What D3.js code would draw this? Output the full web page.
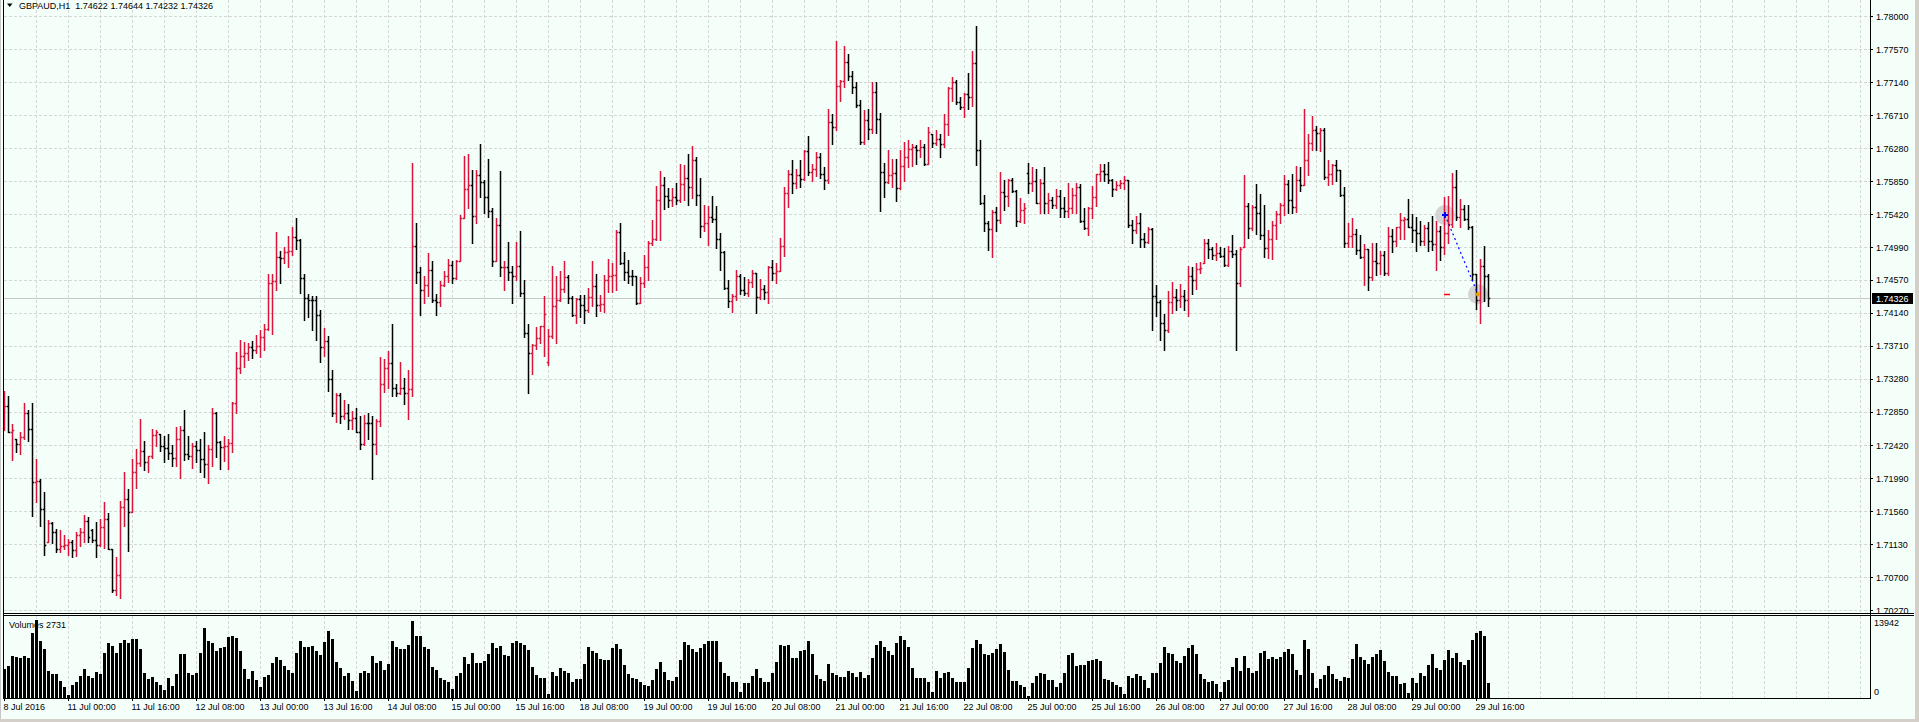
<!DOCTYPE html>
<html><head><meta charset="utf-8">
<script src="https://cdn.jsdelivr.net/npm/d3@7"></script>
<style>
html,body{margin:0;padding:0;background:#F5FFFA;overflow:hidden;}
svg{display:block;}
text{font-family:"Liberation Sans",Arial,sans-serif;font-size:9px;fill:#000;}
</style></head><body>
<svg id="c" width="1919" height="722"></svg>
<script>
const symbol = "GBPAUD,H1";
const open = [
1.7264,1.7293,1.7259,1.7250,1.7243,1.7252,1.7284,1.7262,1.7194,1.7195,
1.7159,1.7115,1.7140,1.7128,1.7107,1.7110,1.7112,1.7115,1.7105,1.7124,
1.7128,1.7143,1.7131,1.7118,1.7112,1.7135,1.7145,1.7106,1.7053,1.7073,
1.7161,1.7171,1.7154,1.7206,1.7218,1.7234,1.7219,1.7227,1.7255,1.7256,
1.7240,1.7238,1.7231,1.7225,1.7250,1.7261,1.7230,1.7227,1.7240,1.7235,
1.7224,1.7217,1.7237,1.7284,1.7246,1.7239,1.7241,1.7244,1.7296,1.7342,
1.7357,1.7361,1.7369,1.7365,1.7371,1.7382,1.7393,1.7453,1.7455,1.7486,
1.7485,1.7493,1.7494,1.7512,1.7508,1.7459,1.7433,1.7431,1.7430,1.7411,
1.7369,1.7377,1.7327,1.7283,1.7307,1.7280,1.7284,1.7274,1.7277,1.7259,
1.7243,1.7271,1.7270,1.7243,1.7273,1.7321,1.7342,1.7348,1.7316,1.7310,
1.7316,1.7310,1.7314,1.7501,1.7467,1.7444,1.7450,1.7469,1.7431,1.7428,
1.7450,1.7461,1.7476,1.7459,1.7481,1.7537,1.7575,1.7580,1.7540,1.7593,
1.7584,1.7564,1.7546,1.7481,1.7528,1.7473,1.7474,1.7467,1.7461,1.7475,
1.7439,1.7387,1.7362,1.7372,1.7381,1.7396,1.7350,1.7383,1.7423,1.7431,
1.7445,1.7460,1.7433,1.7411,1.7432,1.7424,1.7418,1.7434,1.7448,1.7424,
1.7425,1.7457,1.7461,1.7463,1.7519,1.7479,1.7467,1.7462,1.7461,1.7426,
1.7453,1.7474,1.7504,1.7510,1.7561,1.7580,1.7566,1.7561,1.7565,1.7560,
1.7582,1.7589,1.7577,1.7612,1.7567,1.7527,1.7530,1.7539,1.7536,1.7510,
1.7493,1.7446,1.7429,1.7435,1.7461,1.7444,1.7440,1.7454,1.7465,1.7434,
1.7445,1.7441,1.7474,1.7465,1.7468,1.7501,1.7570,1.7594,1.7583,1.7593,
1.7588,1.7624,1.7597,1.7601,1.7617,1.7594,1.7586,1.7662,1.7656,1.7709,
1.7716,1.7740,1.7722,1.7707,1.7684,1.7636,1.7665,1.7653,1.7701,1.7666,
1.7597,1.7584,1.7593,1.7596,1.7576,1.7605,1.7616,1.7627,1.7630,1.7626,
1.7629,1.7608,1.7647,1.7635,1.7640,1.7633,1.7659,1.7706,1.7714,1.7688,
1.7682,1.7699,1.7695,1.7739,1.7626,1.7556,1.7530,1.7523,1.7545,1.7534,
1.7571,1.7566,1.7587,1.7572,1.7533,1.7547,1.7596,1.7583,1.7585,1.7556,
1.7583,1.7556,1.7560,1.7554,1.7566,1.7550,1.7546,1.7550,1.7567,1.7578,
1.7533,1.7524,1.7550,1.7565,1.7594,1.7598,1.7594,1.7587,1.7575,1.7580,
1.7583,1.7586,1.7528,1.7522,1.7530,1.7510,1.7506,1.7523,1.7436,1.7428,
1.7401,1.7392,1.7428,1.7434,1.7430,1.7435,1.7430,1.7462,1.7457,1.7471,
1.7478,1.7504,1.7497,1.7489,1.7491,1.7488,1.7476,1.7494,1.7490,1.7452,
1.7499,1.7553,1.7524,1.7552,1.7544,1.7515,1.7498,1.7510,1.7528,1.7542,
1.7554,1.7581,1.7561,1.7552,1.7586,1.7580,1.7613,1.7635,1.7651,1.7648,
1.7651,1.7590,1.7595,1.7606,1.7599,1.7567,1.7505,1.7514,1.7516,1.7496,
1.7486,1.7497,1.7460,1.7481,1.7479,1.7489,1.7465,1.7514,1.7507,1.7525,
1.7535,1.7536,1.7526,1.7522,1.7518,1.7507,1.7524,1.7507,1.7503,1.7520,
1.7500,1.7518,1.7529,1.7577,1.7538,1.7549,1.7536,1.7525,1.7464,1.7431,
1.7475,1.74622];
const high = [
1.7312,1.7305,1.7269,1.7250,1.7258,1.7296,1.7287,1.7296,1.7224,1.7197,
1.7181,1.7144,1.7141,1.7133,1.7131,1.7124,1.7119,1.7118,1.7128,1.7134,
1.7150,1.7148,1.7133,1.7142,1.7145,1.7167,1.7153,1.7107,1.7096,1.7169,
1.7206,1.7184,1.7223,1.7236,1.7275,1.7247,1.7228,1.7262,1.7261,1.7256,
1.7253,1.7256,1.7242,1.7265,1.7266,1.7287,1.7253,1.7244,1.7247,1.7250,
1.7258,1.7242,1.7290,1.7285,1.7247,1.7254,1.7249,1.7298,1.7363,1.7379,
1.7376,1.7374,1.7377,1.7385,1.7392,1.7399,1.7464,1.7464,1.7519,1.7494,
1.7499,1.7514,1.7526,1.7537,1.7510,1.7464,1.7438,1.7436,1.7436,1.7418,
1.7394,1.7384,1.7339,1.7310,1.7310,1.7300,1.7295,1.7286,1.7290,1.7280,
1.7281,1.7284,1.7280,1.7275,1.7356,1.7353,1.7364,1.7399,1.7321,1.7350,
1.7329,1.7339,1.7609,1.7530,1.7473,1.7461,1.7492,1.7481,1.7438,1.7455,
1.7468,1.7484,1.7481,1.7482,1.7541,1.7618,1.7621,1.7599,1.7599,1.7634,
1.7587,1.7614,1.7550,1.7537,1.7598,1.7481,1.7506,1.7475,1.7506,1.7520,
1.7457,1.7399,1.7373,1.7395,1.7397,1.7435,1.7393,1.7475,1.7462,1.7468,
1.7481,1.7463,1.7436,1.7433,1.7437,1.7437,1.7446,1.7481,1.7464,1.7437,
1.7463,1.7484,1.7478,1.7521,1.7530,1.7493,1.7482,1.7470,1.7462,1.7460,
1.7489,1.7507,1.7535,1.7579,1.7598,1.7590,1.7576,1.7576,1.7583,1.7608,
1.7606,1.7621,1.7631,1.7616,1.7589,1.7554,1.7553,1.7566,1.7553,1.7517,
1.7494,1.7456,1.7438,1.7470,1.7464,1.7460,1.7458,1.7470,1.7465,1.7458,
1.7450,1.7475,1.7483,1.7478,1.7511,1.7577,1.7599,1.7613,1.7601,1.7613,
1.7625,1.7644,1.7608,1.7623,1.7622,1.7603,1.7679,1.7672,1.7767,1.7717,
1.7761,1.7751,1.7729,1.7714,1.7691,1.7678,1.7679,1.7714,1.7714,1.7674,
1.7609,1.7625,1.7614,1.7614,1.7626,1.7636,1.7639,1.7634,1.7632,1.7638,
1.7634,1.7656,1.7647,1.7652,1.7646,1.7672,1.7708,1.7721,1.7717,1.7695,
1.7700,1.7726,1.7754,1.7787,1.7639,1.7567,1.7533,1.7548,1.7552,1.7597,
1.7587,1.7588,1.7589,1.7573,1.7563,1.7556,1.7609,1.7603,1.7601,1.7588,
1.7604,1.7570,1.7564,1.7575,1.7573,1.7564,1.7583,1.7576,1.7583,1.7581,
1.7550,1.7552,1.7579,1.7595,1.7608,1.7607,1.7610,1.7588,1.7585,1.7586,
1.7592,1.7586,1.7535,1.7540,1.7543,1.7517,1.7525,1.7524,1.7450,1.7431,
1.7412,1.7442,1.7454,1.7445,1.7451,1.7443,1.7475,1.7473,1.7478,1.7480,
1.7510,1.7510,1.7500,1.7504,1.7499,1.7498,1.7501,1.7515,1.7496,1.7499,
1.7593,1.7557,1.7554,1.7581,1.7568,1.7554,1.7521,1.7533,1.7546,1.7556,
1.7593,1.7586,1.7594,1.7605,1.7604,1.7679,1.7646,1.7670,1.7657,1.7654,
1.7654,1.7612,1.7607,1.7612,1.7600,1.7577,1.7530,1.7537,1.7523,1.7515,
1.7503,1.7497,1.7505,1.7504,1.7494,1.7494,1.7526,1.7523,1.7526,1.7544,
1.7538,1.7562,1.7542,1.7538,1.7533,1.7528,1.7532,1.7540,1.7533,1.7527,
1.7565,1.7566,1.7596,1.7599,1.7562,1.7554,1.7554,1.7527,1.7464,1.7484,
1.7501,1.74644];
const low = [
1.7261,1.7259,1.7222,1.7233,1.7230,1.7250,1.7247,1.7149,1.7168,1.7136,
1.7099,1.7115,1.7114,1.7102,1.7103,1.7107,1.7099,1.7096,1.7097,1.7110,
1.7115,1.7115,1.7116,1.7096,1.7110,1.7108,1.7106,1.7050,1.7047,1.7042,
1.7136,1.7104,1.7154,1.7186,1.7214,1.7209,1.7206,1.7225,1.7240,1.7234,
1.7220,1.7223,1.7214,1.7214,1.7199,1.7222,1.7224,1.7212,1.7219,1.7207,
1.7200,1.7192,1.7214,1.7226,1.7210,1.7221,1.7210,1.7233,1.7284,1.7335,
1.7343,1.7352,1.7355,1.7362,1.7356,1.7365,1.7392,1.7386,1.7443,1.7452,
1.7478,1.7473,1.7489,1.7497,1.7439,1.7405,1.7408,1.7391,1.7379,1.7350,
1.7357,1.7312,1.7280,1.7272,1.7270,1.7276,1.7262,1.7262,1.7259,1.7236,
1.7242,1.7250,1.7197,1.7230,1.7267,1.7311,1.7316,1.7306,1.7305,1.7308,
1.7295,1.7275,1.7306,1.7453,1.7411,1.7427,1.7435,1.7428,1.7411,1.7423,
1.7448,1.7454,1.7453,1.7458,1.7481,1.7537,1.7550,1.7504,1.7531,1.7565,
1.7543,1.7539,1.7475,1.7481,1.7462,1.7444,1.7456,1.7426,1.7456,1.7436,
1.7382,1.7310,1.7334,1.7367,1.7374,1.7358,1.7346,1.7381,1.7375,1.7429,
1.7441,1.7427,1.7409,1.7400,1.7408,1.7400,1.7415,1.7423,1.7409,1.7416,
1.7415,1.7441,1.7441,1.7444,1.7477,1.7457,1.7452,1.7450,1.7425,1.7426,
1.7447,1.7456,1.7502,1.7509,1.7509,1.7549,1.7551,1.7553,1.7555,1.7558,
1.7561,1.7554,1.7563,1.7554,1.7513,1.7520,1.7502,1.7532,1.7498,1.7469,
1.7445,1.7421,1.7415,1.7430,1.7438,1.7437,1.7435,1.7447,1.7414,1.7432,
1.7432,1.7427,1.7456,1.7452,1.7468,1.7488,1.7551,1.7570,1.7576,1.7578,
1.7587,1.7593,1.7585,1.7592,1.7589,1.7575,1.7583,1.7633,1.7651,1.7689,
1.7708,1.7717,1.7700,1.7682,1.7634,1.7634,1.7640,1.7648,1.7648,1.7546,
1.7565,1.7583,1.7577,1.7559,1.7575,1.7585,1.7603,1.7605,1.7608,1.7617,
1.7606,1.7608,1.7629,1.7632,1.7617,1.7629,1.7645,1.7689,1.7685,1.7679,
1.7668,1.7679,1.7683,1.7606,1.7555,1.7520,1.7495,1.7487,1.7520,1.7530,
1.7548,1.7553,1.7571,1.7527,1.7532,1.7530,1.7570,1.7572,1.7556,1.7544,
1.7543,1.7544,1.7550,1.7550,1.7538,1.7538,1.7539,1.7543,1.7544,1.7532,
1.7523,1.7515,1.7537,1.7553,1.7585,1.7585,1.7583,1.7566,1.7573,1.7576,
1.7575,1.7525,1.7504,1.7517,1.7499,1.7499,1.7505,1.7391,1.7410,1.7378,
1.7366,1.7389,1.7414,1.7418,1.7421,1.7418,1.7410,1.7438,1.7445,1.7465,
1.7478,1.7485,1.7484,1.7483,1.7486,1.7475,1.7475,1.7486,1.7365,1.7449,
1.7499,1.7511,1.7522,1.7516,1.7510,1.7487,1.7485,1.7484,1.7510,1.7530,
1.7541,1.7544,1.7544,1.7545,1.7572,1.7580,1.7593,1.7626,1.7626,1.7624,
1.7588,1.7580,1.7581,1.7585,1.7566,1.7499,1.7500,1.7499,1.7490,1.7485,
1.7450,1.7444,1.7457,1.7463,1.7464,1.7463,1.7463,1.7493,1.7501,1.7510,
1.7510,1.7526,1.7506,1.7494,1.7502,1.7502,1.7494,1.7495,1.7470,1.7482,
1.7490,1.7505,1.7526,1.7535,1.7526,1.7535,1.7523,1.7457,1.7419,1.7401,
1.7429,1.74232];
const close = [
1.7293,1.7259,1.7261,1.7243,1.7252,1.7284,1.7262,1.7194,1.7195,1.7159,
1.7112,1.7140,1.7128,1.7107,1.7110,1.7112,1.7115,1.7105,1.7124,1.7128,
1.7143,1.7122,1.7118,1.7112,1.7135,1.7145,1.7106,1.7053,1.7073,1.7161,
1.7171,1.7154,1.7206,1.7218,1.7234,1.7219,1.7227,1.7255,1.7258,1.7240,
1.7238,1.7231,1.7225,1.7250,1.7261,1.7230,1.7227,1.7240,1.7235,1.7224,
1.7217,1.7237,1.7284,1.7246,1.7239,1.7241,1.7244,1.7296,1.7342,1.7357,
1.7361,1.7369,1.7365,1.7371,1.7382,1.7393,1.7453,1.7455,1.7486,1.7485,
1.7493,1.7494,1.7512,1.7508,1.7459,1.7433,1.7431,1.7430,1.7411,1.7369,
1.7377,1.7327,1.7283,1.7307,1.7280,1.7284,1.7274,1.7277,1.7259,1.7243,
1.7271,1.7270,1.7243,1.7273,1.7321,1.7342,1.7348,1.7316,1.7310,1.7316,
1.7310,1.7314,1.7501,1.7467,1.7444,1.7450,1.7469,1.7431,1.7428,1.7450,
1.7461,1.7476,1.7459,1.7481,1.7537,1.7575,1.7580,1.7540,1.7593,1.7584,
1.7564,1.7546,1.7481,1.7528,1.7473,1.7474,1.7467,1.7461,1.7475,1.7439,
1.7387,1.7362,1.7372,1.7381,1.7396,1.7412,1.7383,1.7423,1.7431,1.7445,
1.7460,1.7433,1.7411,1.7432,1.7424,1.7418,1.7434,1.7448,1.7424,1.7425,
1.7457,1.7461,1.7463,1.7519,1.7479,1.7467,1.7462,1.7461,1.7426,1.7453,
1.7474,1.7504,1.7510,1.7561,1.7580,1.7566,1.7561,1.7565,1.7560,1.7582,
1.7589,1.7577,1.7612,1.7567,1.7527,1.7530,1.7539,1.7536,1.7510,1.7493,
1.7446,1.7429,1.7435,1.7461,1.7444,1.7440,1.7454,1.7465,1.7434,1.7445,
1.7441,1.7474,1.7465,1.7468,1.7501,1.7570,1.7594,1.7583,1.7593,1.7588,
1.7624,1.7597,1.7601,1.7617,1.7594,1.7586,1.7662,1.7656,1.7709,1.7716,
1.7740,1.7722,1.7707,1.7684,1.7636,1.7665,1.7653,1.7701,1.7666,1.7597,
1.7584,1.7593,1.7596,1.7576,1.7605,1.7616,1.7627,1.7630,1.7626,1.7629,
1.7608,1.7649,1.7635,1.7640,1.7633,1.7659,1.7706,1.7714,1.7688,1.7682,
1.7699,1.7695,1.7739,1.7626,1.7556,1.7530,1.7523,1.7545,1.7534,1.7571,
1.7566,1.7587,1.7572,1.7533,1.7547,1.7550,1.7583,1.7585,1.7556,1.7583,
1.7556,1.7560,1.7554,1.7566,1.7550,1.7546,1.7550,1.7567,1.7578,1.7533,
1.7524,1.7550,1.7565,1.7594,1.7598,1.7594,1.7587,1.7575,1.7580,1.7583,
1.7586,1.7528,1.7522,1.7530,1.7510,1.7506,1.7523,1.7436,1.7428,1.7401,
1.7392,1.7428,1.7434,1.7430,1.7435,1.7430,1.7462,1.7457,1.7471,1.7472,
1.7504,1.7497,1.7489,1.7491,1.7488,1.7476,1.7494,1.7490,1.7452,1.7497,
1.7553,1.7524,1.7552,1.7544,1.7515,1.7498,1.7510,1.7528,1.7542,1.7554,
1.7581,1.7561,1.7552,1.7586,1.7580,1.7613,1.7635,1.7651,1.7648,1.7651,
1.7590,1.7595,1.7606,1.7599,1.7567,1.7505,1.7514,1.7516,1.7496,1.7486,
1.7497,1.7460,1.7481,1.7479,1.7489,1.7465,1.7514,1.7507,1.7525,1.7535,
1.7536,1.7526,1.7522,1.7518,1.7507,1.7524,1.7507,1.7503,1.7520,1.7500,
1.7518,1.7529,1.7577,1.7538,1.7549,1.7536,1.7525,1.7464,1.7431,1.7475,
1.7462,1.74326];
const volume = [
5243,5779,7507,7328,7150,7507,7150,11618,13942,10248,
8758,4886,4290,4290,3098,1966,596,2383,2860,3992,
5183,3932,3575,4588,4349,8103,9890,9235,8043,9831,
10367,9771,10546,10546,8758,4469,3336,3754,2860,2264,
1490,3575,2145,4290,7865,7805,4469,4111,4469,8103,
12512,10129,9771,8401,8997,9175,10963,11082,10724,8401,
5183,3396,4886,3277,1966,3813,4111,6315,7328,6792,
5779,4945,4469,8043,10129,9116,9116,9294,8460,7626,
10009,11976,10546,6435,5362,3992,4469,3098,1311,4469,
4886,4528,7567,6315,6673,5005,6077,10188,9116,8758,
8758,9533,13763,11082,11082,9056,8758,5541,4945,3575,
3277,2860,1609,3992,4469,7328,6077,8043,6256,6256,
6554,7805,9831,8937,9235,7745,7507,9831,10188,9890,
9414,8580,5541,4111,3515,3575,715,4647,3932,5362,
4826,4469,2860,3396,3396,6077,9116,8401,8103,6971,
6792,6792,8937,9652,8758,5958,4290,3575,3396,2860,
2324,2145,3217,5183,6435,4647,3217,3039,3754,6792,
10009,9533,8758,8222,8937,9652,10188,10188,10188,6435,
4469,3873,2860,2860,1072,2681,2681,3932,5183,3575,
2860,2860,4469,6435,9473,9294,9473,7150,7150,8401,
8580,10188,7865,4111,3396,3098,6077,4469,4111,3754,
3754,4826,4469,3754,4647,3575,4111,7150,9473,10188,
9116,8460,7686,9890,11082,10367,9116,5303,3575,3575,
3575,2860,1072,4826,3575,4469,4647,3575,2860,2860,
2860,5362,8937,10367,9652,7865,7686,8043,8758,9652,
8282,5005,3039,3039,2264,1907,357,2681,3932,4469,
4290,3217,3217,1966,2681,4469,7686,8103,5720,5898,
5898,6613,6792,6971,6673,3396,3217,2860,2264,2026,
715,3932,3575,4290,3932,3217,1787,4469,4469,6256,
9116,8043,7865,6613,6256,7507,8937,9473,7865,4290,
3396,2860,3039,2502,1072,2860,3217,5541,7150,4886,
7507,5362,4469,4826,8043,8401,6971,7328,6971,7328,
8222,8758,7865,5005,4111,10367,8758,4469,1787,3396,
4111,5720,4290,3396,2979,3754,3575,6971,9652,7328,
6792,6077,7328,7865,8580,6673,4647,3932,3932,2502,
2622,894,3575,2681,4469,3932,5898,7865,5362,5005,
6792,8580,7150,8043,6435,5898,6792,10367,11618,11976,
11082,2731];
const priceTicks = [1.78000,1.77570,1.77140,1.76710,1.76280,1.75850,1.75420,1.74990,1.74570,1.74140,1.73710,1.73280,1.72850,1.72420,1.71990,1.71560,1.71130,1.70700,1.70270];
const timeLabels = ["8 Jul 2016","11 Jul 00:00","11 Jul 16:00","12 Jul 08:00","13 Jul 00:00","13 Jul 16:00","14 Jul 08:00","15 Jul 00:00","15 Jul 16:00","18 Jul 08:00","19 Jul 00:00","19 Jul 16:00","20 Jul 08:00","21 Jul 00:00","21 Jul 16:00","22 Jul 08:00","25 Jul 00:00","25 Jul 16:00","26 Jul 08:00","27 Jul 00:00","27 Jul 16:00","28 Jul 08:00","29 Jul 00:00","29 Jul 16:00"];
const timeLabelBars = [0,16,32,48,64,80,96,112,128,144,160,176,192,208,224,240,256,272,288,304,320,336,352,368];
const tradeBars = [360, 368];
const tradePrices = [1.7541, 1.7438];

const UP = "#DC143C", DOWN = "#000000", GRID = "#D6D6D6";
const N = close.length;
const svg = d3.select("#c");
const axisX = 1870;
const x = d3.scaleLinear().domain([0, N - 1]).range([4, 4 + 4 * (N - 1)]);
const y = d3.scaleLinear().domain([priceTicks[priceTicks.length - 1], priceTicks[0]]).range([610, 16]);
const volMax = d3.max(volume);
const yv = d3.scaleLinear().domain([0, volMax]).range([698, 620]);

// background
svg.append("rect").attr("width", 1919).attr("height", 722).attr("fill", "#F5FFFA");

// grid
const grid = svg.append("g").attr("stroke", GRID).attr("stroke-dasharray", "3,2").attr("shape-rendering", "crispEdges");
const gridBars = d3.range(8, 465, 8);
grid.selectAll("line.v").data(gridBars).join("line").attr("class", "v")
  .attr("x1", d => x(d) + 0.5).attr("x2", d => x(d) + 0.5).attr("y1", 0).attr("y2", 612);
grid.selectAll("line.vv").data(gridBars).join("line").attr("class", "vv")
  .attr("x1", d => x(d) + 0.5).attr("x2", d => x(d) + 0.5).attr("y1", 616).attr("y2", 698);
grid.selectAll("line.h").data(priceTicks).join("line").attr("class", "h")
  .attr("x1", 4).attr("x2", axisX).attr("y1", d => Math.round(y(d)) + 0.5).attr("y2", d => Math.round(y(d)) + 0.5);

// current price line
const lastC = close[N - 1];
const yLast = Math.round(y(lastC)) + 0.5;
svg.append("line").attr("x1", 4).attr("x2", axisX).attr("y1", yLast).attr("y2", yLast)
  .attr("stroke", "#C8C8C8").attr("shape-rendering", "crispEdges");

// trade markers (background discs)
const tx = tradeBars.map((b, i) => x(b) + 1 + i);
const ty = tradePrices.map(p => y(p));
svg.selectAll("circle.tr").data(tradeBars).join("circle").attr("class", "tr")
  .attr("cx", (d, i) => tx[i]).attr("cy", (d, i) => ty[i]).attr("r", 10).attr("fill", "#D4D4D4");

// OHLC bars
svg.append("g").attr("fill", "none")
  .selectAll("path").data(d3.range(N)).join("path")
  .attr("d", i => {
    const xi = Math.round(x(i)) + 0.5;
    const yh = Math.round(y(high[i])), yl = Math.round(y(low[i]));
    const yo = Math.round(y(open[i])) + 0.5, yc = Math.round(y(close[i])) + 0.5;
    return `M${xi},${yh}V${yl + 1}M${xi - 1.75},${yo}H${xi}M${xi},${yc}H${xi + 1.75}`;
  })
  .attr("stroke", i => close[i] > open[i] ? UP : DOWN)
  .attr("stroke-width", 1.5);

// trade line and markers
svg.append("line").attr("x1", tx[0]).attr("y1", ty[0]).attr("x2", tx[1]).attr("y2", ty[1])
  .attr("stroke", "#0000FF").attr("stroke-width", 1.2).attr("stroke-dasharray", "2,3");
svg.append("path").attr("d", `M${tx[0] - 3},${ty[0]}H${tx[0] + 3}M${tx[0]},${ty[0] - 3}V${ty[0] + 3}`)
  .attr("stroke", "#0000FF").attr("stroke-width", 2);
svg.append("path").attr("d", `M${tx[1] - 3},${ty[1]}L${tx[1]},${ty[1] - 3}L${tx[1] + 2},${ty[1]}L${tx[1]},${ty[1] + 3}Z`)
  .attr("fill", "#E8A000");
svg.append("line").attr("x1", tx[0] - 1).attr("x2", tx[0] + 5).attr("y1", Math.round(ty[1]) + 0.5).attr("y2", Math.round(ty[1]) + 0.5)
  .attr("stroke", "#FF0000").attr("stroke-width", 1.5);

// volume bars
svg.append("g").attr("shape-rendering", "crispEdges").selectAll("rect").data(volume).join("rect")
  .attr("x", (d, i) => Math.round(x(i)) - 1).attr("width", 3)
  .attr("y", d => Math.round(yv(d))).attr("height", d => 698 - Math.round(yv(d)))
  .attr("fill", "#000");

// frame lines
const frame = svg.append("g").attr("stroke", "#000").attr("shape-rendering", "crispEdges");
frame.append("line").attr("x1", 3.5).attr("x2", 3.5).attr("y1", 0).attr("y2", 699);
frame.append("line").attr("x1", axisX + 0.5).attr("x2", axisX + 0.5).attr("y1", 0).attr("y2", 699);
frame.append("line").attr("x1", 3).attr("x2", 1914).attr("y1", 613.5).attr("y2", 613.5);
frame.append("line").attr("x1", 3).attr("x2", 1914).attr("y1", 615.5).attr("y2", 615.5);
frame.append("line").attr("x1", 3).attr("x2", axisX + 1).attr("y1", 698.5).attr("y2", 698.5);
svg.append("line").attr("x1", 0.5).attr("x2", 0.5).attr("y1", 0).attr("y2", 722).attr("stroke", "#C8C8C8");

// price axis
const pAxis = svg.append("g").attr("transform", `translate(${axisX},0)`)
  .call(d3.axisRight(y).tickValues(priceTicks).tickFormat(d3.format(".5f")).tickSize(3).tickPadding(3).tickSizeOuter(0));
pAxis.select(".domain").remove();
pAxis.attr("font-family", null).attr("font-size", null);
pAxis.selectAll(".tick line").attr("stroke", "#000").attr("shape-rendering", "crispEdges");
pAxis.selectAll(".tick text").attr("fill", "#000").attr("dy", "0.36em");

// current price box
svg.append("rect").attr("x", 1872).attr("y", Math.round(y(lastC)) - 5).attr("width", 41).attr("height", 11).attr("fill", "#000");
svg.append("text").attr("x", 1876).attr("y", Math.round(y(lastC)) + 4).attr("fill", "#fff").style("fill", "#fff")
  .text(d3.format(".5f")(lastC));

// time axis
const tAxis = svg.append("g").attr("transform", "translate(0,698)")
  .call(d3.axisBottom(x).tickValues(timeLabelBars).tickFormat((d, i) => timeLabels[i]).tickSize(3).tickPadding(3).tickSizeOuter(0));
tAxis.select(".domain").remove();
tAxis.attr("font-family", null).attr("font-size", null);
tAxis.selectAll(".tick line").attr("stroke", "#000").attr("shape-rendering", "crispEdges");
tAxis.selectAll(".tick text").attr("text-anchor", "start").attr("fill", "#000").attr("x", -1);

// volume labels
svg.append("text").attr("x", 1874).attr("y", yv(volMax) + 6).text(volMax);
svg.append("text").attr("x", 1874).attr("y", yv(0) - 3).text(0);
svg.append("text").attr("x", 9).attr("y", 628).text("Volumes " + volume[N - 1]);

// title
svg.append("path").attr("d", "M7,3.5L12.5,3.5L9.75,7Z").attr("fill", "#000");
svg.append("text").attr("x", 19).attr("y", 9).style("white-space", "pre")
  .text(`${symbol}  ${[open[N-1], high[N-1], low[N-1], close[N-1]].map(d3.format(".5f")).join(" ")}`);

// window edges
svg.append("rect").attr("x", 1915).attr("y", 0).attr("width", 4).attr("height", 722).attr("fill", "#D4D0C8");
svg.append("rect").attr("x", 0).attr("y", 719).attr("width", 1919).attr("height", 3).attr("fill", "#D4D0C8");
</script>
</body></html>
